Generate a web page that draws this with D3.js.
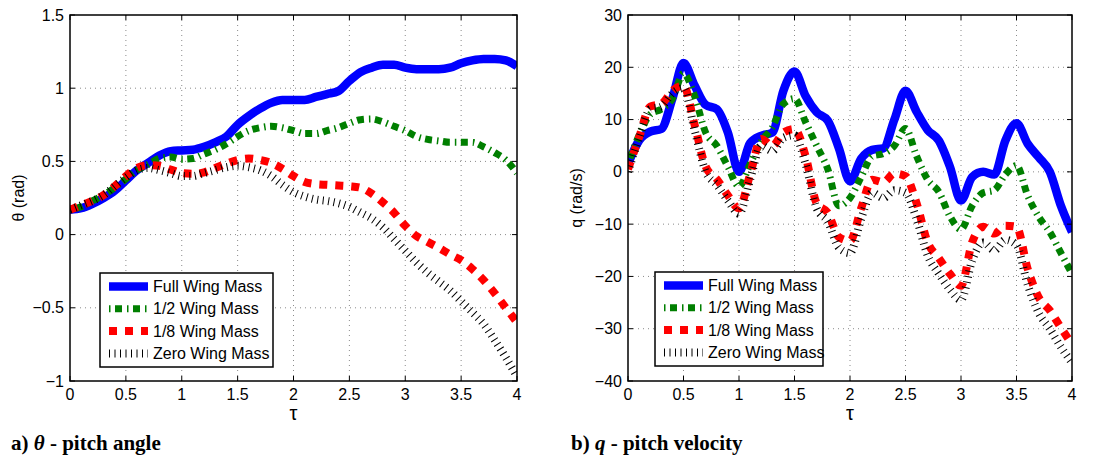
<!DOCTYPE html>
<html>
<head>
<meta charset="utf-8">
<script src="https://cdn.jsdelivr.net/npm/d3@7"></script>
<style>
  body { margin: 0; background: #fff; }
  svg { display: block; }
  .tick-label { font-family: "Liberation Sans", Arial, Helvetica, sans-serif; font-size: 16px; fill: #000; }
  .caption { font-family: "Liberation Serif", "Times New Roman", serif; font-size: 21px; font-weight: bold; fill: #000; }
</style>
</head>
<body>
<div id="chart"></div>
<script>
// time axis (shared by both panels)
const tau = [0, 0.1, 0.2, 0.3, 0.4, 0.5, 0.6, 0.7, 0.8, 0.9, 1.0, 1.1, 1.2, 1.3, 1.4, 1.5, 1.6, 1.7, 1.8, 1.9,
  2.0, 2.1, 2.2, 2.3, 2.4, 2.5, 2.6, 2.7, 2.8, 2.9, 3.0, 3.1, 3.2, 3.3, 3.4, 3.5, 3.6, 3.7, 3.8, 3.9, 4.0];

// a) pitch angle theta (rad)
const thetaFull = [0.17, 0.18, 0.21, 0.25, 0.30, 0.37, 0.44, 0.49, 0.54, 0.57, 0.575, 0.58, 0.60, 0.63, 0.67, 0.75, 0.81, 0.86, 0.90, 0.92,
  0.92, 0.92, 0.94, 0.96, 0.98, 1.05, 1.11, 1.14, 1.16, 1.16, 1.14, 1.13, 1.13, 1.13, 1.14, 1.17, 1.19, 1.20, 1.20, 1.19, 1.15];
const thetaHalf = [0.17, 0.19, 0.23, 0.27, 0.32, 0.38, 0.44, 0.48, 0.52, 0.53, 0.515, 0.52, 0.55, 0.58, 0.62, 0.67, 0.71, 0.73, 0.74, 0.73,
  0.71, 0.69, 0.69, 0.71, 0.73, 0.76, 0.785, 0.79, 0.77, 0.74, 0.71, 0.67, 0.65, 0.64, 0.63, 0.63, 0.63, 0.60, 0.56, 0.51, 0.42];
const thetaEighth = [0.17, 0.20, 0.23, 0.27, 0.33, 0.40, 0.455, 0.475, 0.47, 0.445, 0.42, 0.415, 0.425, 0.455, 0.485, 0.51, 0.52, 0.51, 0.49, 0.45,
  0.40, 0.36, 0.345, 0.34, 0.335, 0.33, 0.32, 0.28, 0.22, 0.15, 0.06, -0.01, -0.05, -0.09, -0.135, -0.175, -0.235, -0.31, -0.40, -0.50, -0.60];
const thetaZero = [0.17, 0.20, 0.23, 0.27, 0.33, 0.39, 0.44, 0.455, 0.44, 0.42, 0.40, 0.40, 0.42, 0.44, 0.46, 0.47, 0.46, 0.44, 0.40, 0.34,
  0.29, 0.26, 0.24, 0.23, 0.215, 0.19, 0.15, 0.11, 0.05, -0.03, -0.11, -0.19, -0.26, -0.32, -0.38, -0.455, -0.53, -0.61, -0.72, -0.84, -0.97];

// b) pitch velocity q (rad/s)
const qFull = [1.5, 6.0, 7.7, 8.2, 14.0, 20.8, 16.5, 12.8, 12.0, 7.5, 0.0, 5.5, 6.9, 7.5, 15.5, 19.2, 14.5, 11.4, 9.8, 4.5,
  -1.8, 2.5, 4.2, 4.5, 10.0, 15.5, 11.5, 8.0, 6.0, 1.0, -5.5, -1.0, 0.0, -0.5, 6.0, 9.3, 5.4, 2.8, 0.0, -6.5, -11.5];
const qHalf = [1.5, 7.0, 11.0, 12.0, 14.0, 18.8, 14.5, 7.5, 5.0, 1.0, -2.8, 1.5, 5.8, 8.5, 13.0, 14.0, 9.5, 5.0, 0.5, -6.5,
  -5.0, -1.0, 3.0, 3.5, 5.0, 8.3, 3.0, -1.5, -3.8, -8.5, -11.0, -6.5, -4.0, -3.5, -0.5, 1.2, -4.5, -8.6, -11.5, -15.5, -19.5];
const qEighth = [0.5, 6.6, 12.5, 13.0, 15.5, 16.5, 9.0, 1.0, -1.4, -4.5, -7.0, -0.5, 6.3, 5.0, 7.5, 8.2, 3.0, -6.0, -7.8, -12.5,
  -13.2, -7.0, -1.5, -2.0, -0.3, -0.8, -6.0, -13.5, -16.5, -19.5, -21.8, -13.5, -10.5, -11.8, -10.3, -10.5, -18.5, -24.0, -26.5, -29.8, -33.0];
const qZero = [0.0, 6.5, 12.0, 12.5, 15.0, 16.0, 8.0, 0.0, -2.5, -5.5, -8.0, -1.5, 5.0, 4.0, 6.5, 7.0, 1.5, -7.0, -9.5, -14.5,
  -15.5, -9.0, -4.0, -5.0, -3.5, -4.0, -9.0, -16.0, -19.5, -22.5, -24.5, -17.0, -13.5, -15.0, -13.0, -14.0, -21.5, -27.0, -30.0, -33.5, -36.5];

const seriesNames = ["Full Wing Mass", "1/2 Wing Mass", "1/8 Wing Mass", "Zero Wing Mass"];
const xTicks = [0, 0.5, 1, 1.5, 2, 2.5, 3, 3.5, 4];
const thetaTicks = [-1, -0.5, 0, 0.5, 1, 1.5];
const qTicks = [-40, -30, -20, -10, 0, 10, 20, 30];

// line styles, same order as seriesNames
const styles = [
  { color: "#0000ff", width: 8.5, dash: null },
  { color: "#007f00", width: 7, dash: "1.5,4.5,7,5" },
  { color: "#ff0000", width: 8, dash: "8,8" },
  { color: "#000000", width: 8, dash: "1,4.5" }
];

const W = 1094, H = 456;
const svg = d3.select("#chart").append("svg").attr("width", W).attr("height", H);

const fmt = d3.format("~g");

function drawPanel(cfg) {
  const x = d3.scaleLinear().domain([0, 4]).range([cfg.left, cfg.right]);
  const y = d3.scaleLinear().domain(cfg.yDomain).range([cfg.bottom, cfg.top]);
  const g = svg.append("g");

  const clipId = "clip-" + cfg.id;
  g.append("clipPath").attr("id", clipId).append("rect")
    .attr("x", cfg.left).attr("y", cfg.top)
    .attr("width", cfg.right - cfg.left).attr("height", cfg.bottom - cfg.top);

  // dotted grid
  g.selectAll(".vgrid").data(xTicks.slice(1, -1)).enter().append("line")
    .attr("x1", d => x(d)).attr("x2", d => x(d))
    .attr("y1", cfg.top).attr("y2", cfg.bottom)
    .attr("stroke", "#8a8a8a").attr("stroke-width", 1).attr("stroke-dasharray", "1,4");
  g.selectAll(".hgrid").data(cfg.yTicks.slice(1, -1)).enter().append("line")
    .attr("y1", d => y(d)).attr("y2", d => y(d))
    .attr("x1", cfg.left).attr("x2", cfg.right)
    .attr("stroke", "#8a8a8a").attr("stroke-width", 1).attr("stroke-dasharray", "1,4");

  // curves
  const line = d3.line()
    .x((d, i) => x(tau[i]))
    .y(d => y(d))
    .curve(d3.curveMonotoneX);

  const plot = g.append("g").attr("clip-path", `url(#${clipId})`);
  cfg.series.forEach((s, i) => {
    plot.append("path")
      .attr("d", line(s))
      .attr("fill", "none")
      .attr("stroke", styles[i].color)
      .attr("stroke-width", styles[i].width)
      .attr("stroke-dasharray", styles[i].dash)
      .attr("stroke-linejoin", "round");
  });

  // inward ticks on all sides
  const tl = 5;
  xTicks.forEach(t => {
    g.append("line").attr("x1", x(t)).attr("x2", x(t)).attr("y1", cfg.bottom).attr("y2", cfg.bottom - tl).attr("stroke", "#000");
    g.append("line").attr("x1", x(t)).attr("x2", x(t)).attr("y1", cfg.top).attr("y2", cfg.top + tl).attr("stroke", "#000");
  });
  cfg.yTicks.forEach(t => {
    g.append("line").attr("y1", y(t)).attr("y2", y(t)).attr("x1", cfg.left).attr("x2", cfg.left + tl).attr("stroke", "#000");
    g.append("line").attr("y1", y(t)).attr("y2", y(t)).attr("x1", cfg.right).attr("x2", cfg.right - tl).attr("stroke", "#000");
  });

  // box
  g.append("rect")
    .attr("x", cfg.left).attr("y", cfg.top)
    .attr("width", cfg.right - cfg.left).attr("height", cfg.bottom - cfg.top)
    .attr("fill", "none").attr("stroke", "#000").attr("stroke-width", 1.5);

  // tick labels
  g.selectAll(".xl").data(xTicks).enter().append("text")
    .attr("class", "tick-label")
    .attr("x", d => x(d)).attr("y", cfg.bottom + 19)
    .attr("text-anchor", "middle")
    .text(d => fmt(d));
  g.selectAll(".yl").data(cfg.yTicks).enter().append("text")
    .attr("class", "tick-label")
    .attr("x", cfg.left - 6).attr("y", d => y(d) + 5.5)
    .attr("text-anchor", "end")
    .text(d => fmt(d));

  // axis titles
  g.append("text").attr("class", "tick-label")
    .attr("x", (cfg.left + cfg.right) / 2).attr("y", cfg.bottom + 39)
    .attr("text-anchor", "middle").style("font-size", "20px")
    .text("τ");
  g.append("text").attr("class", "tick-label")
    .attr("transform", `translate(${cfg.yLabelX},${(cfg.top + cfg.bottom) / 2}) rotate(-90)`)
    .attr("text-anchor", "middle")
    .text(cfg.yLabel);

  // legend
  const lg = g.append("g").attr("transform", `translate(${cfg.legend[0]},${cfg.legend[1]})`);
  lg.append("rect").attr("width", cfg.legend[2]).attr("height", 94)
    .attr("fill", "#fff").attr("stroke", "#000").attr("stroke-width", 1.5);
  seriesNames.forEach((name, i) => {
    const yy = 13.5 + i * 22.3;
    lg.append("line")
      .attr("x1", 9).attr("x2", 48).attr("y1", yy).attr("y2", yy)
      .attr("stroke", styles[i].color)
      .attr("stroke-width", styles[i].width)
      .attr("stroke-dasharray", styles[i].dash);
    lg.append("text").attr("class", "tick-label")
      .attr("x", 53).attr("y", yy + 5.5)
      .text(name);
  });

  // caption
  const cap = g.append("text").attr("class", "caption").attr("x", cfg.capX).attr("y", 450);
  cap.append("tspan").text(cfg.capLetter + ") ");
  cap.append("tspan").style("font-style", "italic").text(cfg.capSymbol);
  cap.append("tspan").text(" - " + cfg.capText);
}

drawPanel({
  id: "theta", left: 70, right: 517, top: 15, bottom: 381,
  yDomain: [-1, 1.5], yTicks: thetaTicks, yLabel: "θ (rad)", yLabelX: 24,
  series: [thetaFull, thetaHalf, thetaEighth, thetaZero],
  legend: [100, 273, 173],
  capX: 11, capLetter: "a", capSymbol: "θ", capText: "pitch angle"
});

drawPanel({
  id: "q", left: 628, right: 1072, top: 15, bottom: 381,
  yDomain: [-40, 30], yTicks: qTicks, yLabel: "q (rad/s)", yLabelX: 582,
  series: [qFull, qHalf, qEighth, qZero],
  legend: [655, 272, 168],
  capX: 571, capLetter: "b", capSymbol: "q", capText: "pitch velocity"
});
</script>
</body>
</html>
